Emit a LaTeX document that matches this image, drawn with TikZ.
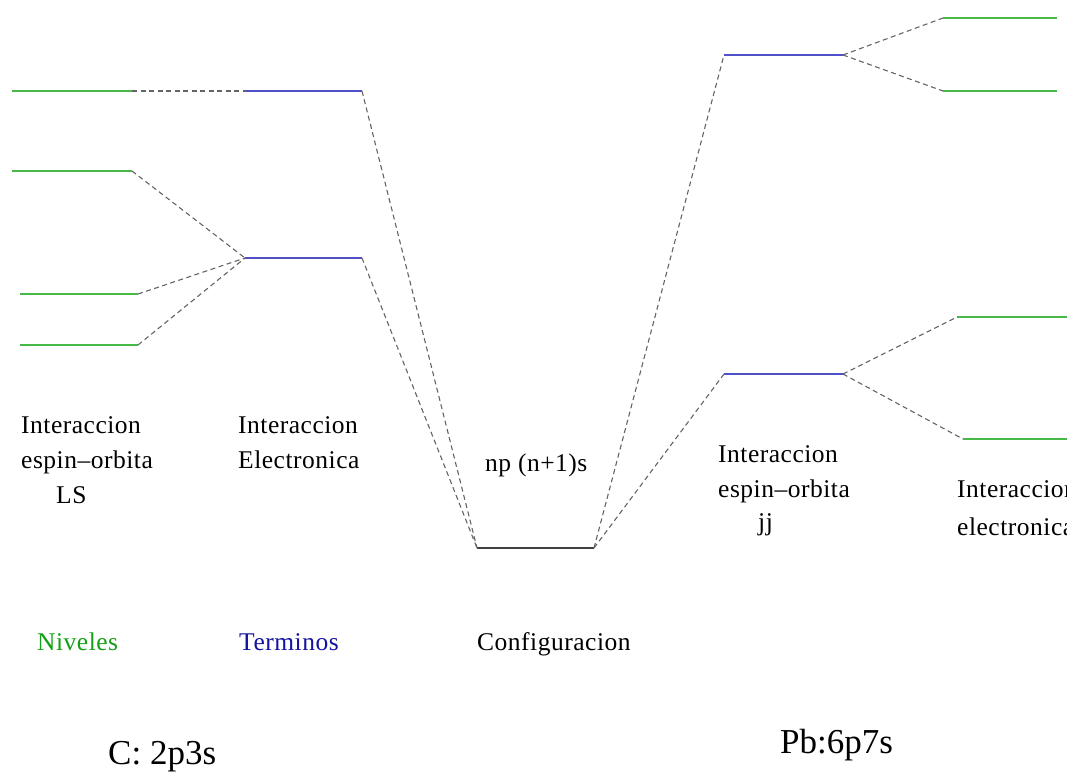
\documentclass[tikz,border=0pt]{standalone}
\usepackage{fontspec}
\setmainfont{Liberation Serif}
\newfontfamily\lblfont[LetterSpace=2.0]{Liberation Serif}
\definecolor{lvgreen}{RGB}{70,185,70}
\definecolor{lvblue}{RGB}{80,80,200}
\definecolor{txgreen}{RGB}{20,160,20}
\definecolor{txblue}{RGB}{20,20,160}
\definecolor{dashgray}{RGB}{100,100,100}
\begin{document}
\begin{tikzpicture}[x=1pt,y=-1pt,
  level/.style={line width=2.2pt},
  niv/.style={level,lvgreen},
  term/.style={level,lvblue},
  conf/.style={level,black!75},
  link/.style={dashgray,line width=1.1pt,dash pattern=on 5pt off 3.5pt},
  lbl/.style={anchor=base west,inner sep=0pt,font=\lblfont\fontsize{25.5}{30}\selectfont},
  big/.style={anchor=base west,inner sep=0pt,font=\fontsize{35}{40}\selectfont}]
\useasboundingbox (0,0) rectangle (1067,773);
% left levels (Niveles)
\coordinate (n1a) at (12,91);  \coordinate (n1b) at (132,91);
\coordinate (n2a) at (12,171); \coordinate (n2b) at (132,171);
\coordinate (n3a) at (20,294); \coordinate (n3b) at (138,294);
\coordinate (n4a) at (20,345); \coordinate (n4b) at (138,345);
% terms
\coordinate (t1a) at (245,91);  \coordinate (t1b) at (362,91);
\coordinate (t2a) at (245,258); \coordinate (t2b) at (362,258);
% configuration
\coordinate (ca) at (477,548); \coordinate (cb) at (594,548);
% right terms (jj)
\coordinate (j1a) at (724,55);  \coordinate (j1b) at (843,55);
\coordinate (j2a) at (724,374); \coordinate (j2b) at (843,374);
% right levels
\coordinate (r1a) at (943,18);  \coordinate (r1b) at (1057,18);
\coordinate (r2a) at (943,91);  \coordinate (r2b) at (1057,91);
\coordinate (r3a) at (957,317); \coordinate (r3b) at (1067,317);
\coordinate (r4a) at (963,439); \coordinate (r4b) at (1067,439);

\draw[niv] (n1a) -- (n1b);
\draw[niv] (n2a) -- (n2b);
\draw[niv] (n3a) -- (n3b);
\draw[niv] (n4a) -- (n4b);
\draw[term] (t1a) -- (t1b);
\draw[term] (t2a) -- (t2b);
\draw[conf] (ca) -- (cb);
\draw[term] (j1a) -- (j1b);
\draw[term] (j2a) -- (j2b);
\draw[niv] (r1a) -- (r1b);
\draw[niv] (r2a) -- (r2b);
\draw[niv] (r3a) -- (r3b);
\draw[niv] (r4a) -- (r4b);

\draw[link] (n1b) -- (t1a);
\draw[link] (n2b) -- (t2a);
\draw[link] (n3b) -- (t2a);
\draw[link] (n4b) -- (t2a);
\draw[link] (t1b) -- (ca);
\draw[link] (t2b) -- (ca);
\draw[link] (cb) -- (j1a);
\draw[link] (cb) -- (j2a);
\draw[link] (j1b) -- (r1a);
\draw[link] (j1b) -- (r2a);
\draw[link] (j2b) -- (r3a);
\draw[link] (j2b) -- (r4a);

\node[lbl] (l1) at (21,433) {Interaccion};
\node[lbl] (l2) at (21,468) {espin\textendash orbita};
\node[lbl] (l3) at (56,503) {LS};
\node[lbl] (e1) at (238,433) {Interaccion};
\node[lbl] (e2) at (238,468) {Electronica};
\node[lbl] (np) at (485,471) {np (n+1)s};
\node[lbl] (k1) at (718,462) {Interaccion};
\node[lbl] (k2) at (718,497) {espin\textendash orbita};
\node[lbl] (k3) at (758,530) {jj};
\node[lbl] (m1) at (957,497) {Interaccion};
\node[lbl] (m2) at (957,535) {electronica};
\node[lbl,txgreen] (niv) at (37,650) {Niveles};
\node[lbl,txblue] (ter) at (239,650) {Terminos};
\node[lbl] (con) at (477,650) {Configuracion};
\node[big] (c) at (108,764) {C: 2p3s};
\node[big] (pb) at (780,753) {Pb:6p7s};
\end{tikzpicture}
\end{document}
